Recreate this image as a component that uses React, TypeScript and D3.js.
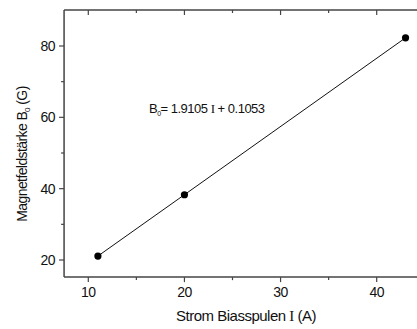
import React from "react";
import * as d3 from "d3";

const currents = [11, 20, 43];
const fields = [21.1, 38.3, 82.3];
const xTicks = [10, 20, 30, 40];
const xMinor = [15, 25, 35];
const yTicks = [20, 40, 60, 80];
const yMinor = [30, 50, 70];

const W = 417, H = 329;

export default function App() {
  const x = d3.scaleLinear().domain([10, 40]).range([88.3, 376.7]);
  const y = d3.scaleLinear().domain([20, 80]).range([260, 46]);
  const left = x(7.48), right = x(45), top = y(90.1), bottom = y(15.2);
  const line = d3.line<number>().x((_, i) => x(currents[i])).y((d) => y(d));
  const axisColor = "#444";
  const font = "'Liberation Sans', Arial, sans-serif";
  const serif = "'Liberation Serif', 'Times New Roman', serif";
  return (
    <svg width={W} height={H} style={{ position: "absolute", left: 0, top: 0 }} fontFamily={font}>
      <rect width={W} height={H} fill="white" />
      {/* frame */}
      <line x1={left} x2={right} y1={bottom} y2={bottom} stroke={axisColor} strokeWidth={1.5} />
      <line x1={left} x2={right} y1={top} y2={top} stroke={axisColor} strokeWidth={1.5} />
      <line x1={left} x2={left} y1={top} y2={bottom} stroke={axisColor} strokeWidth={1.5} />
      {/* x ticks */}
      {xTicks.map((t) => (
        <g key={"x" + t}>
          <line x1={x(t)} x2={x(t)} y1={bottom} y2={bottom + 5} stroke={axisColor} strokeWidth={1.2} />
          <line x1={x(t)} x2={x(t)} y1={top} y2={top + 5} stroke={axisColor} strokeWidth={1.2} />
          <text x={x(t)} y={bottom + 20} textAnchor="middle" fontSize={14} fill="#111" letterSpacing={-0.5}>{t}</text>
        </g>
      ))}
      {xMinor.map((t) => (
        <g key={"xm" + t}>
          <line x1={x(t)} x2={x(t)} y1={bottom} y2={bottom + 3} stroke={axisColor} strokeWidth={1.2} />
          <line x1={x(t)} x2={x(t)} y1={top} y2={top + 3} stroke={axisColor} strokeWidth={1.2} />
        </g>
      ))}
      {yTicks.map((t) => (
        <g key={"y" + t}>
          <line x1={left - 5} x2={left} y1={y(t)} y2={y(t)} stroke={axisColor} strokeWidth={1.2} />
          <text x={left - 9} y={y(t) + 5} textAnchor="end" fontSize={14} fill="#111" letterSpacing={-0.5}>{t}</text>
        </g>
      ))}
      {yMinor.map((t) => (
        <line key={"ym" + t} x1={left - 3} x2={left} y1={y(t)} y2={y(t)} stroke={axisColor} strokeWidth={1.2} />
      ))}
      {/* data */}
      <path d={line(fields) || ""} fill="none" stroke="#111" strokeWidth={1} />
      {fields.map((v, i) => (
        <circle key={i} cx={x(currents[i])} cy={y(v)} r={3.6} fill="#000" />
      ))}
      {/* annotation */}
      <text x={149} y={113} fontSize={13} fill="#111" letterSpacing={-0.5}>
        B<tspan fontSize={7} dy={3}>0</tspan><tspan dy={-3}>= 1.9105 </tspan><tspan fontFamily={serif}>I</tspan><tspan> + 0.1053</tspan>
      </text>
      {/* axis labels */}
      <text x={246} y={321} textAnchor="middle" fontSize={15} fill="#111" letterSpacing={-0.5}>
        Strom Biasspulen <tspan fontFamily={serif}>I</tspan> (A)
      </text>
      <text transform={`translate(27,154) rotate(-90)`} textAnchor="middle" fontSize={14} fill="#111" letterSpacing={-0.6}>
        Magnetfeldstärke B<tspan fontSize={8} dy={3}>0</tspan><tspan dy={-3}> (G)</tspan>
      </text>
    </svg>
  );
}
